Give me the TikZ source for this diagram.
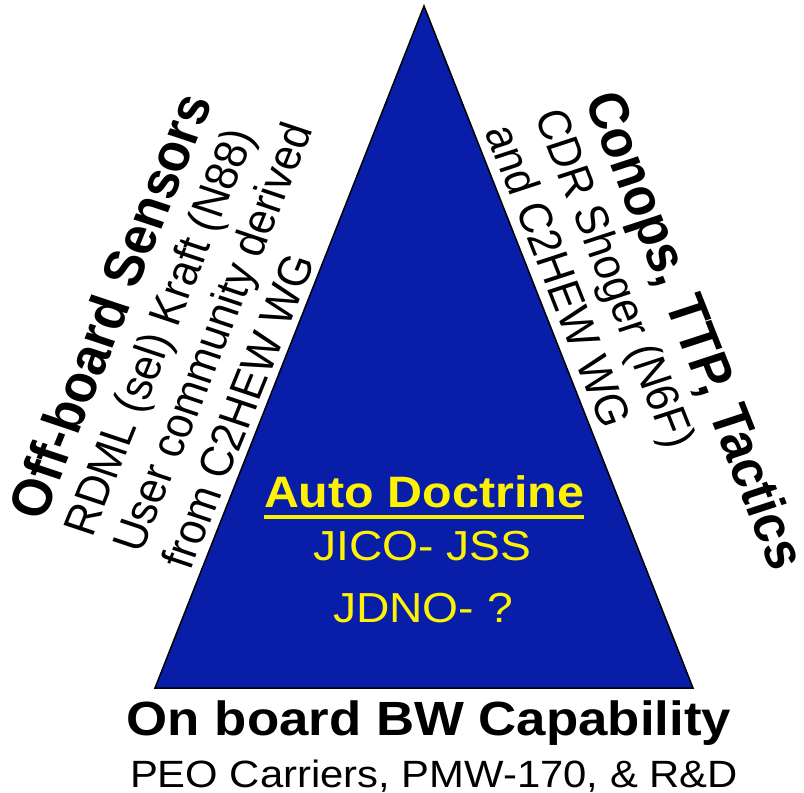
\documentclass[tikz,border=0pt]{standalone}
\usepackage{fontspec}
\setmainfont{Liberation Sans}
\definecolor{triblue}{RGB}{8,30,168}
\begin{document}
\begin{tikzpicture}[x=1pt,y=1pt,
  txt/.style={inner sep=0pt, outer sep=0pt},
  titlefont/.style={font=\fontsize{51}{60}\selectfont\bfseries},
  sidefont/.style={font=\fontsize{42}{50}\selectfont},
  sideline/.style={txt, transform shape, anchor=base west},
  hline/.style={txt, anchor=base, xscale=1.1},
  inner/.style={hline, text=yellow},
]
\path[use as bounding box] (0,0) rectangle (804,-793);
\coordinate (apex) at (424,-6);
\coordinate (br) at (693,-688);
\coordinate (bl) at (155,-688);
\draw[fill=triblue, line width=1.5pt, line join=miter] (apex) -- (br) -- (bl) -- cycle;

\begin{scope}[shift={(43,-522)}, xscale=1.1, rotate=69.8]
  \node[sideline, titlefont] (ltitle) at (0,0) {Off-board Sensors};
  \node[sideline, sidefont] (l1) at (0,-47.6) {RDML (sel) Kraft (N88)};
  \node[sideline, sidefont] (l2) at (0,-95.2) {User community derived};
  \node[sideline, sidefont] (l3) at (0,-142.8) {from C2HEW WG};
\end{scope}

\begin{scope}[shift={(584,-99)}, xscale=1.1, rotate=-70.2]
  \node[sideline, font=\fontsize{50.5}{60}\selectfont\bfseries] (rtitle) at (0,0) {Conops, TTP, Tactics};
  \node[sideline, sidefont] (r1) at (0,-48) {CDR Shoger (N6F)};
  \node[sideline, sidefont] (r2) at (0,-96) {and C2HEW WG};
\end{scope}

\node[hline, font=\fontsize{48}{56}\selectfont\bfseries] (bottom) at (429,-735) {On board BW Capability};
\node[hline, font=\fontsize{38}{44}\selectfont] (peo) at (434,-787) {PEO Carriers, PMW-170, \& R\&D};

\node[inner, font=\fontsize{44}{52}\selectfont\bfseries] (auto) at (424,-507) {Auto Doctrine};
\draw[yellow, line width=3.3pt] ([yshift=-10pt]auto.base west) -- ([yshift=-10pt]auto.base east);
\node[inner, font=\fontsize{42}{50}\selectfont] (jico) at (422.5,-560) {JICO- JSS};
\node[inner, font=\fontsize{42}{50}\selectfont] (jdno) at (423,-622) {JDNO- ?};
\end{tikzpicture}
\end{document}
